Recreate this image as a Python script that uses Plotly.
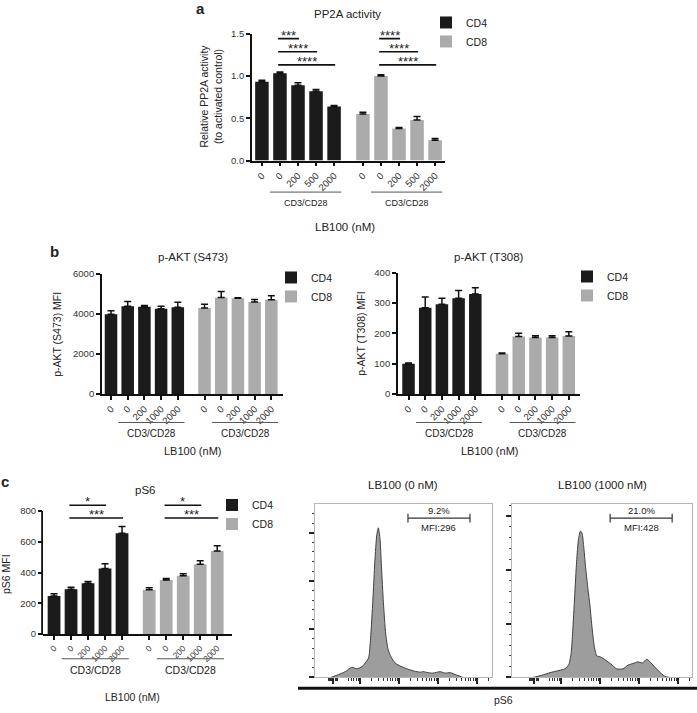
import math
import plotly.graph_objects as go

W, H = 697, 713
FONT = "Liberation Sans, Arial, sans-serif"
C4 = "#1b1b1b"
C8 = "#ababab"
INK = "#222222"

# ---------------- data ----------------
cells = ["CD4", "CD8"]
doses_a = ["0", "0", "200", "500", "2000"]
doses_bc = ["0", "0", "200", "1000", "2000"]

pp2a_cd4 = [0.93, 1.03, 0.89, 0.82, 0.64]
pp2a_cd4_err = [0.02, 0.015, 0.03, 0.02, 0.01]
pp2a_cd8 = [0.55, 1.00, 0.38, 0.48, 0.24]
pp2a_cd8_err = [0.02, 0.015, 0.01, 0.04, 0.02]

s473_cd4 = [3980, 4375, 4360, 4260, 4330]
s473_cd4_err = [180, 240, 60, 120, 250]
s473_cd8 = [4290, 4810, 4780, 4590, 4700]
s473_cd8_err = [190, 300, 20, 130, 200]

t308_cd4 = [100, 285, 296, 316, 330]
t308_cd4_err = [2, 35, 20, 26, 21]
t308_cd8 = [133, 190, 186, 186, 191]
t308_cd8_err = [2, 10, 6, 6, 14]

ps6_cd4 = [248, 292, 331, 426, 656]
ps6_cd4_err = [15, 13, 11, 32, 44]
ps6_cd8 = [289, 352, 379, 455, 540]
ps6_cd8_err = [12, 10, 14, 22, 34]

# significance comparisons: (cell, from index, to index, label)
sig_a = [("CD4", 1, 2, "***"), ("CD4", 1, 3, "****"), ("CD4", 1, 4, "****"),
         ("CD8", 1, 2, "****"), ("CD8", 1, 3, "****"), ("CD8", 1, 4, "****")]
sig_c = [("CD4", 1, 3, "*"), ("CD4", 1, 4, "***"),
         ("CD8", 1, 3, "*"), ("CD8", 1, 4, "***")]

# flow histograms (pS6, decades of fluorescence vs. count)
hist0_u = [1.25, 1.45, 1.62, 1.79, 1.92, 2.05, 2.15, 2.22, 2.27, 2.33, 2.38, 2.43, 2.47,
           2.51, 2.55, 2.60, 2.66, 2.72, 2.80, 2.90, 3.05, 3.20, 3.40, 3.55, 3.62, 3.75,
           3.87, 4.05, 4.18, 4.31, 4.48, 4.64]
hist0_n = [0, 6, 12, 21, 18, 22, 32, 40, 80, 160, 240, 295, 310,
           290, 230, 155, 90, 58, 42, 30, 23, 18, 13, 11, 12, 10,
           9, 12, 9, 10, 5, 0]
hist1000_u = [1.28, 1.50, 1.72, 1.95, 2.10, 2.20, 2.26, 2.30, 2.35, 2.40, 2.45, 2.50, 2.54,
              2.58, 2.63, 2.69, 2.74, 2.80, 2.86, 2.92, 3.02, 3.13, 3.28, 3.43, 3.59, 3.72,
              3.85, 3.97, 4.09, 4.20, 4.33, 4.45, 4.56, 4.67, 4.79]
hist1000_n = [0, 4, 9, 13, 16, 24, 45, 85, 150, 215, 258, 272, 268,
              245, 205, 165, 135, 90, 55, 40, 38, 33, 25, 16, 16, 23,
              26, 29, 27, 34, 25, 16, 8, 2, 0]
hist_titles = ["LB100 (0 nM)", "LB100 (1000 nM)"]
gate_lo = [3.23, 3.26]
gate_hi = [4.82, 4.85]
gate_pct = ["9.2%", "21.0%"]
gate_mfi = ["MFI:296", "MFI:428"]

# ---------------- layout helpers ----------------
OFF = 5.6
pos4 = [0, 1, 2, 3, 4]
pos8 = [OFF + p for p in pos4]


def PX(px):
    return px / W


def PY(py):
    return 1 - py / H


fig = go.Figure()
annotations = []
shapes = []


def text(t, x, y, size=10, bold=False, angle=0, xanchor="center", yanchor="middle"):
    annotations.append(dict(
        text=f"<b>{t}</b>" if bold else t, x=PX(x), y=PY(y), xref="paper", yref="paper",
        showarrow=False, textangle=angle, xanchor=xanchor, yanchor=yanchor,
        font=dict(family=FONT, size=size, color=INK)))


bar_panels = [
    dict(n=1, xd=(252, 445), yd=(157, 28), yr=[0, 1.5], xr=[-0.55, 10.15], dt=0.5, fmt=".1f",
         doses=doses_a, d4=pp2a_cd4, e4=pp2a_cd4_err, d8=pp2a_cd8, e8=pp2a_cd8_err,
         leg="legend", sq=(445, 20), ul=189, ult=200, lbl=(345, 224), lsize=9, lbsize=11.5,
         xtf=9.5, title="PP2A activity", tpos=(347, 8),
         ytitle="Relative PP2A activity<br>(to activated control)",
         ytpos=(211, 92), letter=("a", 200, 3)),
    dict(n=2, xd=(102, 283), yd=(394, 272), yr=[0, 6000], xr=[-0.54, 10.3], dt=2000, fmt="d",
         doses=doses_bc, d4=s473_cd4, e4=s473_cd4_err, d8=s473_cd8, e8=s473_cd8_err,
         leg="legend2", sq=(290, 279), ul=423, ult=434, lbl=(192, 452), lsize=10, lbsize=11,
         xtf=9.5, title="p-AKT (S473)", tpos=(193, 255), ytitle="p-AKT (S473) MFI",
         ytpos=(57, 333), letter=("b", 55, 249)),
    dict(n=3, xd=(398, 580), yd=(394, 271), yr=[0, 400], xr=[-0.63, 10.27], dt=100, fmt="d",
         doses=doses_bc, d4=t308_cd4, e4=t308_cd4_err, d8=t308_cd8, e8=t308_cd8_err,
         leg="legend3", sq=(586, 278), ul=423, ult=434, lbl=(489, 452), lsize=10, lbsize=11,
         xtf=9.5, title="p-AKT (T308)", tpos=(489, 255), ytitle="p-AKT (T308) MFI",
         ytpos=(361, 333), letter=None),
    dict(n=4, xd=(43, 232), yd=(638, 502), yr=[0, 870], xr=[-0.65, 10.47], dt=200, fmt="d",
         doses=doses_bc, d4=ps6_cd4, e4=ps6_cd4_err, d8=ps6_cd8, e8=ps6_cd8_err,
         leg="legend4", sq=(231, 510), ul=663, ult=674, lbl=(132, 702), lsize=10.5, lbsize=10.5,
         xtf=8.5, title="pS6", tpos=(145, 492), ytitle="pS6 MFI",
         ytpos=(6, 577), letter=("c", 5, 483), ymax=800),
]

layout_axes = {}
for p in bar_panels:
    n = p["n"]
    sfx = "" if n == 1 else str(n)
    for cell, xs, ys, es, col in [("CD4", pos4, p["d4"], p["e4"], C4), ("CD8", pos8, p["d8"], p["e8"], C8)]:
        fig.add_trace(go.Bar(
            x=xs, y=ys, name=cell, width=0.75, marker=dict(color=col, line=dict(width=0)),
            error_y=dict(type="data", array=es, arrayminus=[0] * len(es), symmetric=False,
                         color="#111111", thickness=1.5, width=3.5),
            xaxis="x" + sfx, yaxis="y" + sfx, legend=p["leg"], showlegend=True))
    ymax = p.get("ymax", p["yr"][1])
    yt = []
    v = 0
    while v <= ymax + 1e-9:
        yt.append(v)
        v += p["dt"]
    manual_line = "ymax" in p
    layout_axes["xaxis" + sfx] = dict(
        domain=[PX(p["xd"][0]), PX(p["xd"][1])], range=p["xr"], anchor="y" + sfx,
        tickmode="array", tickvals=pos4 + pos8, ticktext=p["doses"] * 2, tickangle=-45,
        ticks="outside", ticklen=4, tickwidth=1.5, tickcolor="#111", showline=True,
        linecolor="#111", linewidth=1.8, showgrid=False, zeroline=False,
        tickfont=dict(family=FONT, size=p["xtf"], color="#333"))
    layout_axes["yaxis" + sfx] = dict(
        domain=[PY(p["yd"][0]), PY(p["yd"][1])], range=p["yr"], anchor="x" + sfx,
        tickmode="array", tickvals=yt, tickformat=p["fmt"], ticks="outside", ticklen=4,
        tickwidth=1.5, tickcolor="#111", showline=not manual_line, linecolor="#111",
        linewidth=1.8, showgrid=False, zeroline=False,
        tickfont=dict(family=FONT, size=9.5, color="#333"))
    if manual_line:
        top_px = p["yd"][0] - (ymax / p["yr"][1]) * (p["yd"][0] - p["yd"][1])
        shapes.append(dict(type="line", xref="paper", yref="paper",
                           x0=PX(p["xd"][0]) - 0.9 / W, x1=PX(p["xd"][0]) - 0.9 / W,
                           y0=PY(p["yd"][0]) - 0.9 / H, y1=PY(top_px),
                           line=dict(color="#111", width=1.8)))
    # group underline + label
    xr0, xr1 = p["xr"]
    dx0, dx1 = PX(p["xd"][0]), PX(p["xd"][1])
    for base in (0, OFF):
        a0 = (base + 0.45 - xr0) / (xr1 - xr0)
        a1 = (base + 4.4 - xr0) / (xr1 - xr0)
        shapes.append(dict(type="line", xref="paper", yref="paper",
                           x0=dx0 + a0 * (dx1 - dx0), x1=dx0 + a1 * (dx1 - dx0),
                           y0=PY(p["ul"]), y1=PY(p["ul"]),
                           line=dict(color="#555", width=1)))
        annotations.append(dict(text="CD3/CD28", x=dx0 + (a0 + a1) / 2 * (dx1 - dx0), xref="paper",
                                y=PY(p["ult"]), yref="paper", showarrow=False,
                                xanchor="center", yanchor="middle",
                                font=dict(family=FONT, size=p["lsize"], color=INK)))
    text("LB100 (nM)", p["lbl"][0], p["lbl"][1], size=p["lbsize"])
    text(p["title"], p["tpos"][0], p["tpos"][1], size=11.5)
    text(p["ytitle"], p["ytpos"][0], p["ytpos"][1], size=10.5, angle=-90)
    if p["letter"]:
        text(p["letter"][0], p["letter"][1], p["letter"][2], size=15, bold=True)
    # legend (squares centred at p["sq"][1])
    layout_axes[p["leg"]] = dict(
        x=PX(p["sq"][0] - 19), y=PY(p["sq"][1] - 18), xanchor="left", yanchor="top",
        bgcolor="rgba(0,0,0,0)", font=dict(family=FONT, size=10.5, color=INK),
        tracegroupgap=0, itemclick=False, itemdoubleclick=False)


def add_sig(sigs, n, base_y, step):
    sfx = "" if n == 1 else str(n)
    for cell, i, j, lab in sigs:
        off = 0 if cell == "CD4" else OFF
        level = base_y + step * (4 - j)
        x0, x1 = off + i - 0.1, off + j + 0.06
        shapes.append(dict(type="line", xref="x" + sfx, yref="y" + sfx, x0=x0, x1=x1,
                           y0=level, y1=level, line=dict(color="#111", width=1.6)))
        annotations.append(dict(text=lab, x=(x0 + x1) / 2, y=level, xref="x" + sfx, yref="y" + sfx,
                                showarrow=False, yanchor="bottom", yshift=-6,
                                font=dict(family=FONT, size=13, color=INK)))


add_sig(sig_a, 1, 1.13, 0.155)
add_sig(sig_c, 4, 755, 83)

# ---------------- histograms ----------------
hist_panels = [
    dict(n=5, xd=(315, 492), yr=[0, 359], xr=[0.846, 5.385], u=hist0_u, c=hist0_n, k=0, tx=403),
    dict(n=6, xd=(512, 692), yr=[0, 322], xr=[0.744, 5.359], u=hist1000_u, c=hist1000_n, k=1, tx=602),
]
major_x = [1.30, 2, 3, 4, 5]
minor_x = [1.18 + 0.03 * i for i in range(9)]
minor_x += [1 + math.log10(m) for m in range(5, 10)]
for dec in (2, 3, 4, 5):
    for m in range(2, 10):
        val = dec + math.log10(m)
        if val < 5.36:
            minor_x.append(val)

for p in hist_panels:
    n = p["n"]
    sfx = str(n)
    fig.add_trace(go.Scatter(
        x=p["u"], y=p["c"], mode="lines", line=dict(color="#404040", width=1, shape="spline", smoothing=0.6),
        fill="tozeroy", fillcolor="#9d9d9d", xaxis="x" + sfx, yaxis="y" + sfx, showlegend=False))
    layout_axes["xaxis" + sfx] = dict(
        domain=[PX(p["xd"][0]), PX(p["xd"][1])], range=p["xr"], anchor="y" + sfx,
        tickmode="array", tickvals=major_x, showticklabels=False, ticks="outside",
        ticklen=6, tickwidth=2, tickcolor="#222", showline=True, mirror=True,
        linecolor="#b5b5b5", linewidth=1, showgrid=False, zeroline=False,
        minor=dict(tickmode="array", tickvals=minor_x, ticks="outside", ticklen=3,
                   tickwidth=1, tickcolor="#333", showgrid=False))
    layout_axes["yaxis" + sfx] = dict(
        domain=[PY(682), PY(506)], range=p["yr"], anchor="x" + sfx,
        tickmode="array", tickvals=[0, 100, 200, 300], showticklabels=False, ticks="outside",
        ticklen=5, tickwidth=1.5, tickcolor="#222", showline=True, mirror=True,
        linecolor="#b5b5b5", linewidth=1, showgrid=False, zeroline=False,
        minor=dict(dtick=20, ticks="outside", ticklen=2.5, tickwidth=1, tickcolor="#444",
                   showgrid=False))
    k = p["k"]
    g0, g1 = gate_lo[k], gate_hi[k]
    gy = 0.92
    shapes.append(dict(type="line", xref="x" + sfx, yref=f"y{sfx} domain", x0=g0, x1=g1,
                       y0=gy, y1=gy, line=dict(color="#333", width=1.2)))
    for gx in (g0, g1):
        shapes.append(dict(type="line", xref="x" + sfx, yref=f"y{sfx} domain", x0=gx, x1=gx,
                           y0=gy - 0.025, y1=gy + 0.025, line=dict(color="#333", width=1.2)))
    annotations.append(dict(text=gate_pct[k], x=(g0 + g1) / 2, y=gy, xref="x" + sfx,
                            yref=f"y{sfx} domain", showarrow=False, yanchor="bottom", yshift=0,
                            font=dict(family=FONT, size=9.5, color=INK)))
    annotations.append(dict(text=gate_mfi[k], x=(g0 + g1) / 2, y=gy, xref="x" + sfx,
                            yref=f"y{sfx} domain", showarrow=False, yanchor="top", yshift=-2,
                            font=dict(family=FONT, size=9.5, color=INK)))
    text(hist_titles[k], p["tx"], 487, size=11.5)

shapes.append(dict(type="line", xref="paper", yref="paper", x0=PX(298), x1=1.0,
                   y0=PY(693), y1=PY(693), line=dict(color="#111", width=3)))
text("pS6", 503, 705, size=10.5)

fig.update_layout(
    width=W, height=H, margin=dict(l=0, r=0, t=0, b=0),
    paper_bgcolor="white", plot_bgcolor="white", barmode="overlay",
    font=dict(family=FONT, size=10, color=INK),
    annotations=annotations, shapes=shapes, **layout_axes)

fig.write_html("out.html",
               config={"displayModeBar": False},
               post_script="document.body.style.margin='0px';document.body.style.overflow='hidden';")
